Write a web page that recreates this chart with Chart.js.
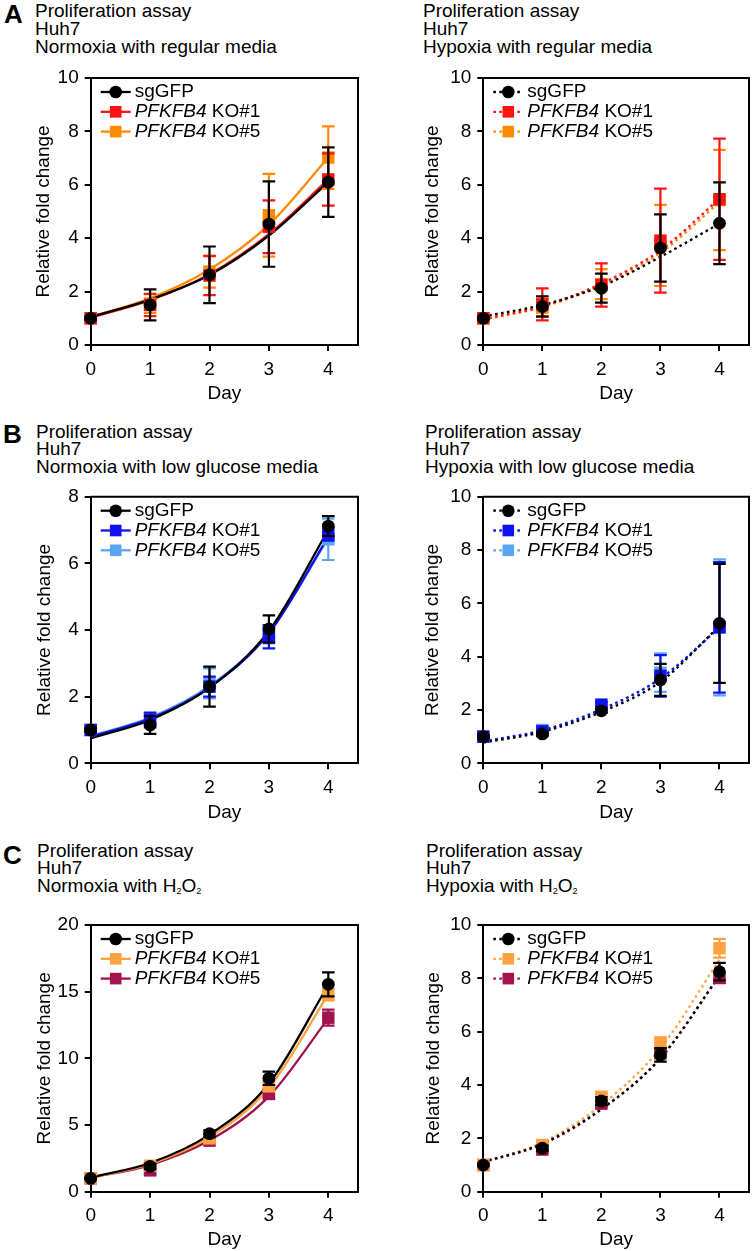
<!DOCTYPE html>
<html>
<head>
<meta charset="utf-8">
<script src="https://cdn.jsdelivr.net/npm/chart.js@4.4.1/dist/chart.umd.min.js"></script>
<style>
  html, body { margin: 0; padding: 0; background: #fff; }
  body { width: 752px; height: 1251px; position: relative; overflow: hidden;
         font-family: "Liberation Sans", Arial, Helvetica, sans-serif; color: #000; }
  .letter { position: absolute; font-size: 26px; font-weight: bold; line-height: 26px; }
  .title { position: absolute; font-size: 19px; line-height: 17.8px; white-space: nowrap; }
  .title sub { font-size: 9px; vertical-align: -2px; line-height: 0; }
  canvas { position: absolute; }
</style>
</head>
<body>
<div class="letter" style="left:4px;top:0.6px">A</div>
<div class="title" style="left:35px;top:2.2px">Proliferation assay<br>Huh7<br>Normoxia with regular media</div>
<div class="title" style="left:423px;top:2.2px">Proliferation assay<br>Huh7<br>Hypoxia with regular media</div>

<div class="letter" style="left:3px;top:421px">B</div>
<div class="title" style="left:36px;top:422.5px">Proliferation assay<br>Huh7<br>Normoxia with low glucose media</div>
<div class="title" style="left:425px;top:422.5px">Proliferation assay<br>Huh7<br>Hypoxia with low glucose media</div>

<div class="letter" style="left:3px;top:841.6px">C</div>
<div class="title" style="left:37px;top:841.5px">Proliferation assay<br>Huh7<br>Normoxia with H<sub>2</sub>O<sub>2</sub></div>
<div class="title" style="left:426px;top:841.5px">Proliferation assay<br>Huh7<br>Hypoxia with H<sub>2</sub>O<sub>2</sub></div>

<script>
const days = [0, 1, 2, 3, 4];
const dayTicks = [0, 1, 2, 3, 4];
const seriesKeys = ['sg', 'ko1', 'ko5'];
const seriesLabels = [
  [{ text: 'sgGFP' }],
  [{ text: 'PFKFB4', italic: true }, { text: ' KO#1' }],
  [{ text: 'PFKFB4', italic: true }, { text: ' KO#5' }]
];

// A: normoxia, regular media
const normRegMean = { sg: [1.0, 1.5, 2.63, 4.53, 6.1], ko1: [1.0, 1.5, 2.6, 4.43, 6.2], ko5: [1.0, 1.55, 2.75, 4.86, 7.02] };
const normRegSd   = { sg: [0.05, 0.58, 1.06, 1.6, 1.3], ko1: [0.05, 0.42, 0.73, 0.99, 0.98], ko5: [0.05, 0.35, 0.6, 1.55, 1.17] };
const normRegFit  = { sg: [1.05, 1.7, 2.62, 4.1, 6.1], ko1: [1.03, 1.68, 2.65, 4.15, 6.2], ko5: [1.05, 1.75, 2.83, 4.5, 7.02] };

// A: hypoxia, regular media
const hypoRegMean = { sg: [1.0, 1.44, 2.13, 3.63, 4.56], ko1: [1.0, 1.52, 2.25, 3.91, 5.46], ko5: [1.0, 1.4, 2.28, 3.73, 5.43] };
const hypoRegSd   = { sg: [0.05, 0.38, 0.54, 1.26, 1.53], ko1: [0.05, 0.6, 0.81, 1.95, 2.27], ko5: [0.05, 0.32, 0.56, 1.52, 1.88] };
const hypoRegFit  = { sg: [1.07, 1.5, 2.2, 3.3, 4.55], ko1: [0.97, 1.45, 2.3, 3.55, 5.48], ko5: [0.95, 1.42, 2.25, 3.45, 5.35] };

// B: normoxia, low glucose
const normLowMean = { sg: [1.0, 1.15, 2.3, 4.03, 7.12], ko1: [1.0, 1.3, 2.3, 3.8, 6.88], ko5: [1.0, 1.35, 2.4, 3.85, 6.72] };
const normLowSd   = { sg: [0.05, 0.27, 0.6, 0.41, 0.3], ko1: [0.05, 0.22, 0.3, 0.35, 0.2], ko5: [0.05, 0.15, 0.45, 0.25, 0.62] };
const normLowFit  = { sg: [0.75, 1.3, 2.27, 3.97, 7.0], ko1: [0.8, 1.34, 2.28, 3.9, 6.8], ko5: [0.82, 1.37, 2.32, 3.93, 6.75] };

// B: hypoxia, low glucose
const hypoLowMean = { sg: [1.0, 1.1, 1.97, 3.13, 5.25], ko1: [1.0, 1.2, 2.2, 3.28, 5.1], ko5: [1.0, 1.25, 2.1, 3.4, 5.1] };
const hypoLowSd   = { sg: [0.05, 0.05, 0.08, 0.6, 2.23], ko1: [0.05, 0.05, 0.1, 0.78, 2.45], ko5: [0.05, 0.05, 0.1, 0.72, 2.55] };
const hypoLowFit  = { sg: [0.78, 1.18, 1.93, 3.06, 5.15], ko1: [0.82, 1.24, 2.02, 3.18, 5.08], ko5: [0.82, 1.24, 2.02, 3.18, 5.1] };

// C: normoxia, H2O2
const normH2o2Mean = { sg: [1.0, 1.9, 4.35, 8.5, 15.55], ko1: [1.0, 1.95, 4.0, 7.9, 14.8], ko5: [1.0, 1.6, 3.83, 7.33, 13.05] };
const normH2o2Sd   = { sg: [0.05, 0.2, 0.25, 0.5, 0.9], ko1: [0.05, 0.2, 0.25, 0.35, 0.45], ko5: [0.05, 0.3, 0.2, 0.3, 0.6] };
const normH2o2Fit  = { sg: [1.08, 2.15, 4.28, 8.1, 15.5], ko1: [1.05, 2.08, 4.1, 7.8, 14.8], ko5: [1.05, 2.0, 3.85, 7.15, 13.0] };

// C: hypoxia, H2O2
const hypoH2o2Mean = { sg: [1.0, 1.63, 3.4, 5.13, 8.25], ko1: [1.0, 1.75, 3.56, 5.6, 9.13], ko5: [1.0, 1.58, 3.3, 5.19, 8.02] };
const hypoH2o2Sd   = { sg: [0.03, 0.1, 0.15, 0.25, 0.33], ko1: [0.03, 0.1, 0.12, 0.15, 0.35], ko5: [0.03, 0.1, 0.12, 0.15, 0.2] };
const hypoH2o2Fit  = { sg: [1.12, 1.8, 3.1, 5.0, 8.1], ko1: [1.1, 1.85, 3.25, 5.38, 8.7], ko5: [1.1, 1.78, 3.08, 5.02, 8.1] };

const black = '#000000', red = '#FF1212', orange = '#FF8A00';
const blue = '#1010F0', lightBlue = '#58A6F4', peach = '#FFA23F', plum = '#A1124E';

const fontFamily = '"Liberation Sans", Arial, Helvetica, sans-serif';
const fontSize = 19;
const dotDash = [2.6, 3.4];

// canvas: [x, y, w, h] on the page, area: [left, top, right, bottom] of the plot box
// right-hand canvases run past the page edge so the x scale's label padding fits
const panels = [
  { mean: normRegMean, sd: normRegSd, fit: normRegFit, yMax: 10, yStep: 2, dotted: false,
    colors: [black, red, orange], canvas: [0, 60, 376, 352], area: [90.7, 78, 358, 345], yGap: 46.5 },
  { mean: hypoRegMean, sd: hypoRegSd, fit: hypoRegFit, yMax: 10, yStep: 2, dotted: true,
    colors: [black, red, orange], canvas: [376, 60, 386, 352], area: [483.3, 78, 749, 345], yGap: 51 },
  { mean: normLowMean, sd: normLowSd, fit: normLowFit, yMax: 8, yStep: 2, dotted: false,
    colors: [black, blue, lightBlue], canvas: [0, 478, 376, 350], area: [90.7, 496.7, 358, 763.3], yGap: 46 },
  { mean: hypoLowMean, sd: hypoLowSd, fit: hypoLowFit, yMax: 10, yStep: 2, dotted: true,
    colors: [black, blue, lightBlue], canvas: [376, 478, 386, 350], area: [483.3, 496.7, 749, 763.3], yGap: 50.5 },
  { mean: normH2o2Mean, sd: normH2o2Sd, fit: normH2o2Fit, yMax: 20, yStep: 5, dotted: false,
    colors: [black, peach, plum], canvas: [0, 905, 376, 346], area: [90.7, 925, 358, 1191.7], yGap: 46 },
  { mean: hypoH2o2Mean, sd: hypoH2o2Sd, fit: hypoH2o2Fit, yMax: 10, yStep: 2, dotted: true,
    colors: [black, peach, plum], canvas: [376, 905, 386, 346], area: [483.3, 925, 749, 1191.7], yGap: 49.5 }
];

Chart.defaults.font.family = fontFamily;
Chart.defaults.font.size = fontSize;
Chart.defaults.color = '#000';

// error bars go right under the markers of their own dataset
const errorBars = {
  id: 'errorBars',
  beforeDatasetDraw(chart, args) {
    const ds = chart.data.datasets[args.index];
    if (!ds.sd) return;
    const { ctx, scales: { x, y } } = chart;
    ctx.save();
    ctx.strokeStyle = ds.pointBackgroundColor;
    ctx.lineWidth = 2.2;
    ds.data.forEach((pt, j) => {
      const s = ds.sd[j];
      const px = x.getPixelForValue(pt.x);
      const top = y.getPixelForValue(pt.y + s);
      const bot = y.getPixelForValue(pt.y - s);
      ctx.beginPath();
      ctx.moveTo(px, top); ctx.lineTo(px, bot);
      ctx.moveTo(px - 6.3, top); ctx.lineTo(px + 6.3, top);
      ctx.moveTo(px - 6.3, bot); ctx.lineTo(px + 6.3, bot);
      ctx.stroke();
    });
    ctx.restore();
  }
};

// top and right side of the box
const frame = {
  id: 'frame',
  beforeDatasetsDraw(chart) {
    const { ctx, chartArea: a } = chart;
    ctx.save();
    ctx.strokeStyle = '#000';
    ctx.lineWidth = 2;
    ctx.beginPath();
    ctx.moveTo(a.left, a.top);
    ctx.lineTo(a.right, a.top);
    ctx.lineTo(a.right, a.bottom);
    ctx.stroke();
    ctx.restore();
  }
};

// legend inside the plot, with italic gene name
const insetLegend = {
  id: 'insetLegend',
  afterDatasetsDraw(chart, args, opts) {
    const { ctx, chartArea: a } = chart;
    const p = opts.panel;
    seriesKeys.forEach((k, i) => {
      const y = a.top + 14 + i * 19.8;
      const col = p.colors[i];
      ctx.save();
      ctx.strokeStyle = col;
      ctx.lineWidth = 2.3;
      ctx.setLineDash(p.dotted ? dotDash : []);
      ctx.beginPath();
      ctx.moveTo(a.left + 10, y);
      ctx.lineTo(a.left + 40, y);
      ctx.stroke();
      ctx.setLineDash([]);
      ctx.fillStyle = col;
      if (i === 0) {
        ctx.beginPath();
        ctx.arc(a.left + 25, y, 6.3, 0, Math.PI * 2);
        ctx.fill();
      } else {
        ctx.fillRect(a.left + 25 - 5.8, y - 5.8, 11.6, 11.6);
      }
      ctx.fillStyle = '#000';
      ctx.textBaseline = 'middle';
      let tx = a.left + 44;
      seriesLabels[i].forEach(part => {
        ctx.font = (part.italic ? 'italic ' : '') + fontSize + 'px ' + fontFamily;
        ctx.fillText(part.text, tx, y);
        tx += ctx.measureText(part.text).width;
      });
      ctx.restore();
    });
  }
};

function buildDatasets(p) {
  const markers = seriesKeys.map((k, i) => ({
    data: days.map((d, j) => ({ x: d, y: p.mean[k][j] })),
    sd: p.sd[k],
    showLine: false,
    pointStyle: i === 0 ? 'circle' : 'rect',
    pointRadius: i === 0 ? 6.4 : 8.8,
    pointBackgroundColor: p.colors[i],
    pointBorderWidth: 0,
    clip: false
  }));
  const fits = seriesKeys.map((k, i) => ({
    data: days.map((d, j) => ({ x: d, y: p.fit[k][j] })),
    borderColor: p.colors[i],
    borderWidth: 2.3,
    borderDash: p.dotted ? dotDash : [],
    pointRadius: 0,
    cubicInterpolationMode: 'monotone',
    fill: false,
    clip: false
  }));
  return markers.concat(fits);
}

panels.forEach(p => {
  const [cx, cy, cw, ch] = p.canvas;
  const [al, at, ar, ab] = p.area;
  const canvas = document.createElement('canvas');
  canvas.width = cw;
  canvas.height = ch;
  canvas.style.left = cx + 'px';
  canvas.style.top = cy + 'px';
  document.body.appendChild(canvas);

  const lh = fontSize * 1.2;
  const yAxisW = al - cx;
  const xAxisH = cy + ch - ab;
  const yTitlePad = Math.max(0, yAxisW - p.yGap - lh / 2);
  const xTitlePad = Math.max(0, xAxisH - 49 - lh / 2);

  new Chart(canvas, {
    type: 'line',
    data: { datasets: buildDatasets(p) },
    options: {
      responsive: false,
      animation: false,
      devicePixelRatio: 1,
      layout: { padding: { left: 0, top: at - cy, right: cx + cw - ar, bottom: 0 } },
      plugins: {
        legend: { display: false },
        tooltip: { enabled: false },
        insetLegend: { panel: p }
      },
      scales: {
        x: {
          type: 'linear',
          min: 0,
          max: 4.5,
          afterBuildTicks: s => { s.ticks = dayTicks.map(v => ({ value: v })); },
          afterFit: s => { s.height = xAxisH; },
          grid: { display: true, drawOnChartArea: false, drawTicks: true, tickLength: 6, lineWidth: 2, color: '#000' },
          border: { display: true, width: 2, color: '#000' },
          ticks: { padding: 7, maxRotation: 0, autoSkip: false },
          title: { display: true, text: 'Day', padding: { top: 0, bottom: xTitlePad } }
        },
        y: {
          type: 'linear',
          min: 0,
          max: p.yMax,
          afterFit: s => { s.width = yAxisW; },
          grid: { display: true, drawOnChartArea: false, drawTicks: true, tickLength: 6, lineWidth: 2, color: '#000' },
          border: { display: true, width: 2, color: '#000' },
          ticks: { stepSize: p.yStep, padding: 6 },
          title: { display: true, text: 'Relative fold change', padding: { top: yTitlePad, bottom: 0 } }
        }
      }
    },
    plugins: [errorBars, frame, insetLegend]
  });
});
</script>
</body>
</html>
